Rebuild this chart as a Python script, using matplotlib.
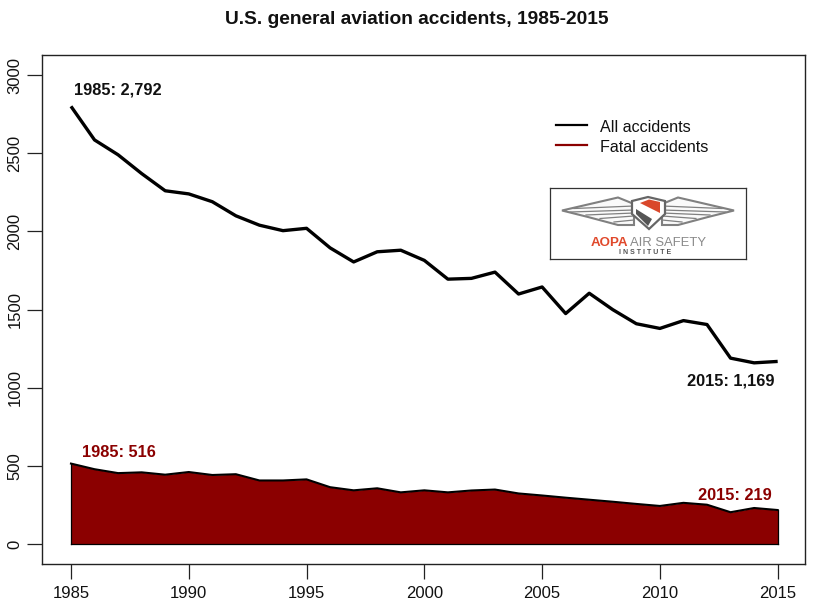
import matplotlib
matplotlib.use('Agg')
import matplotlib.pyplot as plt
from matplotlib.patches import Polygon

plt.rcParams['font.family'] = ['Liberation Sans', 'DejaVu Sans']

years = list(range(1985, 2016))
all_accidents = [2800, 2585, 2490, 2370, 2260, 2240, 2190, 2100, 2040, 2005, 2020,
                 1895, 1805, 1870, 1880, 1815, 1695, 1700, 1740, 1600, 1645,
                 1475, 1605, 1500, 1410, 1380, 1430, 1405, 1190, 1160, 1169]
fatal_accidents = [516, 480, 455, 460, 445, 462, 443, 448, 408, 408, 415,
                   365, 345, 358, 332, 345, 332, 344, 350, 325, 312,
                   298, 285, 272, 258, 245, 265, 253, 205, 232, 219]
x_ticks = [1985, 1990, 1995, 2000, 2005, 2010, 2015]
y_ticks = [0, 500, 1000, 1500, 2000, 2500, 3000]

W, H = 840, 614
dark_red = '#8b0000'

fig = plt.figure(figsize=(W / 100, H / 100), dpi=100)
ax = fig.add_axes([42 / W, 1 - 564 / H, (805 - 42) / W, (564 - 55) / H])

ax.fill_between(years, fatal_accidents, 0, color=dark_red, lw=0)
ax.plot(years, fatal_accidents, color='black', lw=1.5)
ax.plot([1985, 1985], [0, fatal_accidents[0]], color='black', lw=0.9)
ax.plot([2015, 2015], [0, fatal_accidents[-1]], color='black', lw=0.9)
ax.plot(years, [0] * len(years), color='black', lw=0.9)
ax.plot(years, all_accidents, color='black', lw=2.4, solid_capstyle='butt')

ax.set_xlim(1983.77, 2016.16)
ax.set_ylim(-126, 3128)
ax.set_xticks(x_ticks)
ax.set_yticks(y_ticks)
ax.tick_params(axis='both', length=11, width=0.9, color='#222222', labelsize=12, labelcolor='#111111')
ax.tick_params(axis='x', pad=5)
ax.tick_params(axis='y', pad=3)
for lab in ax.get_yticklabels():
    lab.set_rotation(90)
    lab.set_va('center')
for s in ax.spines.values():
    s.set_linewidth(1.0)
    s.set_color('#222222')

fig.text(416.5 / W, 1 - 19 / H, 'U.S. general aviation accidents, 1985-2015', fontsize=13.75,
         fontweight='bold', ha='center', va='center', color='#111111')

ax.text(1985.13, 2905, '1985: 2,792', fontsize=11.8, fontweight='bold', va='center', color='#111111')
ax.text(2011.15, 1045, '2015: 1,169', fontsize=11.8, fontweight='bold', va='center', color='#111111')
ax.text(1985.45, 590, '1985: 516', fontsize=11.8, fontweight='bold', va='center', color=dark_red)
ax.text(2011.6, 310, '2015: 219', fontsize=11.8, fontweight='bold', va='center', color=dark_red)

# legend placed by hand, same spot as the source
fig.add_artist(plt.Line2D([556 / W, 587 / W], [1 - 125 / H] * 2, color='black', lw=1.6))
fig.add_artist(plt.Line2D([556 / W, 587 / W], [1 - 145 / H] * 2, color=dark_red, lw=1.6))
fig.text(600 / W, 1 - 127.5 / H, 'All accidents', fontsize=11.6, va='center', color='#111111')
fig.text(600 / W, 1 - 147.5 / H, 'Fatal accidents', fontsize=11.6, va='center', color='#111111')

# logo box, drawn in pixel coordinates
logo = fig.add_axes([550 / W, 1 - 259 / H, 196 / W, 71 / H])
logo.set_xlim(550, 746)
logo.set_ylim(259, 188)
logo.set_xticks([])
logo.set_yticks([])
for s in logo.spines.values():
    s.set_linewidth(0.9)
    s.set_color('#333333')

grey = '#808080'
cx = 648
for sign in (-1, 1):
    outer = [(cx + sign * 14, 204), (cx + sign * 30, 197.5), (cx + sign * 86, 210.5),
             (cx + sign * 60, 217), (cx + sign * 30, 225), (cx + sign * 14, 225)]
    logo.add_patch(Polygon(outer, closed=True, fc='#fafafa', ec=grey, lw=1.5))
    # feathers fan out from the shoulder
    for ys, xe, ye in [(206, 74, 208.5), (210, 78, 212), (213, 62, 215), (216, 48, 218.5), (220, 34, 222)]:
        logo.plot([cx + sign * 14, cx + sign * xe], [ys, ye], color=grey, lw=0.9)
shield = [(632, 201), (648, 197), (665, 201), (665, 214), (649, 229), (632, 214)]
logo.add_patch(Polygon(shield, closed=True, fc='white', ec='#666666', lw=1.6, zorder=3))
logo.add_patch(Polygon([(640, 203), (649, 199.5), (660, 202), (660, 213)], closed=True, fc='#d9482b', lw=0, zorder=4))
logo.add_patch(Polygon([(636, 209), (652, 219), (648, 226), (636, 214)], closed=True, fc='#555555', lw=0, zorder=4))
logo.text(591, 243, 'AOPA', fontsize=9.6, fontweight='bold', color='#e0492c', va='center', ha='left')
logo.text(630, 243, 'AIR SAFETY', fontsize=9.4, color='#8a8a8a', va='center', ha='left')
logo.text(645.5, 253, 'I N S T I T U T E', fontsize=5, fontweight='bold', color='#555555', va='center', ha='center')

fig.savefig('out.png', dpi=100)
plt.close('all')
